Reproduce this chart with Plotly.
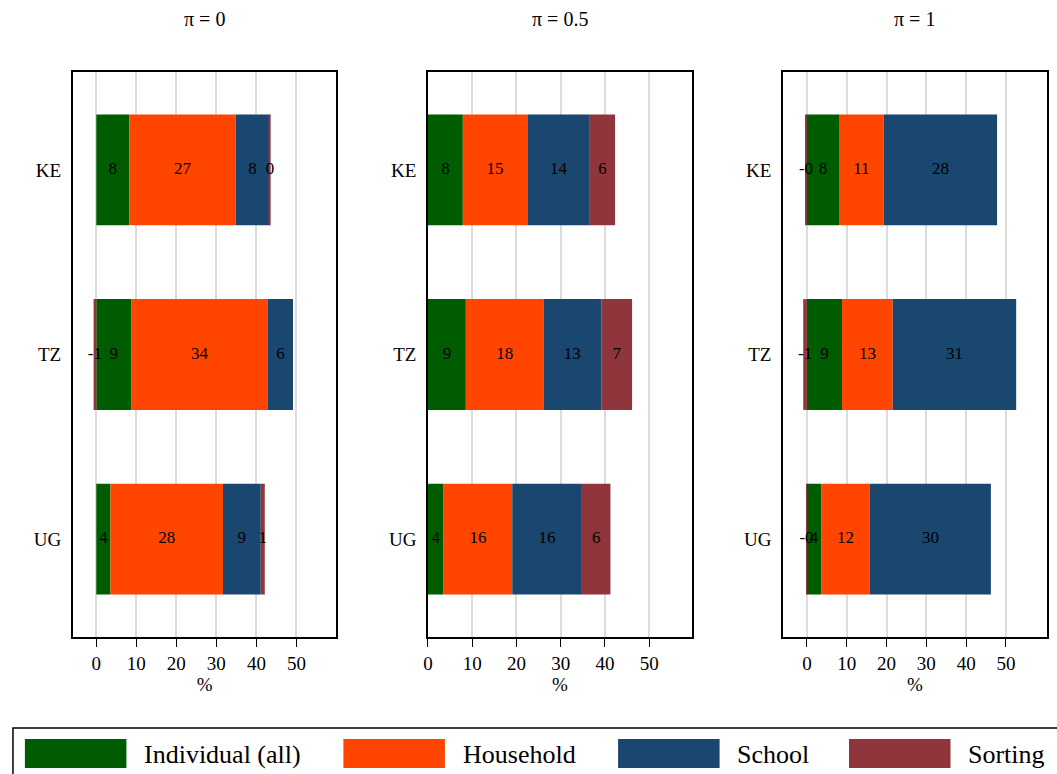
import plotly.graph_objects as go

# ---------------- data ----------------
countries = ["KE", "TZ", "UG"]
panel_titles = ["π = 0", "π = 0.5", "π = 1"]
components = ["Individual (all)", "Household", "School", "Sorting"]

individual_pi0 = [8.28, 8.70, 3.55]
household_pi0 = [26.55, 34.16, 28.10]
school_pi0 = [8.45, 6.29, 9.45]
sorting_pi0 = [0.25, -0.67, 1.00]

individual_pi05 = [7.87, 8.55, 3.52]
household_pi05 = [14.60, 17.55, 15.52]
school_pi05 = [14.10, 13.05, 15.74]
sorting_pi05 = [5.70, 6.97, 6.45]

individual_pi1 = [8.07, 8.82, 3.57]
household_pi1 = [11.25, 12.75, 12.25]
school_pi1 = [28.45, 31.00, 30.40]
sorting_pi1 = [-0.43, -0.92, -0.20]

x_ticks = [0, 10, 20, 30, 40, 50]

panels = [
    [individual_pi0, household_pi0, school_pi0, sorting_pi0],
    [individual_pi05, household_pi05, school_pi05, sorting_pi05],
    [individual_pi1, household_pi1, school_pi1, sorting_pi1],
]

# ---------------- styles / layout ----------------
W, H = 1057, 774
colors = ["#005c00", "#ff4500", "#1a476f", "#90353b"]
FONT = "Liberation Serif"
x_domains_px = [(68, 333), (425, 690), (781.7, 1046.7)]
x_ranges = [[-5.9, 60.0], [0.0, 59.6], [-6.0, 60.25]]
y_top_px, y_bot_px = 72, 637

fig = go.Figure()

for p, series in enumerate(panels):
    xa = "x" if p == 0 else f"x{p+1}"
    ya = "y" if p == 0 else f"y{p+1}"
    pos_base = [0.0] * len(countries)
    neg_base = [0.0] * len(countries)
    text_x, text_y, text_s = [], [], []
    for c, vals in enumerate(series):
        fig.add_trace(go.Bar(
            y=countries, x=vals, orientation="h", name=components[c],
            marker=dict(color=colors[c], line=dict(width=0)),
            xaxis=xa, yaxis=ya, showlegend=False, hoverinfo="x+y+name",
        ))
        for i, v in enumerate(vals):
            if v >= 0:
                centre = pos_base[i] + v / 2
                pos_base[i] += v
            else:
                centre = neg_base[i] + v / 2
                neg_base[i] += v
            text_x.append(centre)
            text_y.append(countries[i])
            text_s.append(f"{v:.0f}")
    fig.add_trace(go.Scatter(
        x=text_x, y=text_y, text=text_s, mode="text",
        textfont=dict(family=FONT, size=17, color="black"),
        xaxis=xa, yaxis=ya, showlegend=False, hoverinfo="skip", cliponaxis=False,
    ))

layout = dict(
    width=W, height=H,
    margin=dict(l=0, r=0, t=0, b=0),
    paper_bgcolor="white", plot_bgcolor="white",
    barmode="relative", bargap=0.4,
    font=dict(family=FONT, color="black"),
    showlegend=False,
)
for p in range(3):
    xk = "xaxis" if p == 0 else f"xaxis{p+1}"
    yk = "yaxis" if p == 0 else f"yaxis{p+1}"
    anchor_y = "y" if p == 0 else f"y{p+1}"
    anchor_x = "x" if p == 0 else f"x{p+1}"
    x0, x1 = x_domains_px[p]
    layout[xk] = dict(
        domain=[x0 / W, x1 / W], anchor=anchor_y, range=x_ranges[p],
        tickvals=x_ticks, ticktext=[str(t) for t in x_ticks],
        ticks="outside", ticklen=8, tickwidth=1.3, tickcolor="black",
        showgrid=True, gridcolor="#dcdcdc", gridwidth=1.5, zeroline=False,
        showline=True, linecolor="black", linewidth=1.5, mirror=True,
        tickfont=dict(family=FONT, size=19, color="black"),
        title=dict(text="%", font=dict(family=FONT, size=19), standoff=3),
    )
    layout[yk] = dict(
        domain=[1 - y_bot_px / H, 1 - y_top_px / H], anchor=anchor_x,
        type="category", categoryorder="array", categoryarray=countries,
        range=[2.53, -0.53], showgrid=False, zeroline=False, ticks="",
        showline=True, linecolor="black", linewidth=1.5, mirror=True,
        tickfont=dict(family=FONT, size=19, color="black"),
        ticklabelstandoff=6,
    )
fig.update_layout(**layout)

annotations = []
for p in range(3):
    x0, x1 = x_domains_px[p]
    annotations.append(dict(
        x=(x0 + x1) / 2 / W, y=1 - 19 / H, xref="paper", yref="paper",
        text=panel_titles[p], showarrow=False, xanchor="center", yanchor="middle",
        font=dict(family=FONT, size=20, color="black"),
    ))

# legend (drawn manually to match the wide swatches)
legend_swatch_x = [20, 340, 616, 848]
legend_text_x = [138, 458, 733, 966]
sw_w, sw_top, sw_bot = 102, 739, 768
shapes = [dict(type="rect", xref="paper", yref="paper",
               x0=8 / W, x1=1.02, y0=-0.02, y1=1 - 728 / H,
               line=dict(color="black", width=1.5), fillcolor="rgba(0,0,0,0)")]
for c, name in enumerate(components):
    shapes.append(dict(type="rect", xref="paper", yref="paper",
                       x0=legend_swatch_x[c] / W, x1=(legend_swatch_x[c] + sw_w) / W,
                       y0=1 - sw_bot / H, y1=1 - sw_top / H,
                       line=dict(width=0), fillcolor=colors[c]))
    annotations.append(dict(
        x=legend_text_x[c] / W, y=1 - 754 / H, xref="paper", yref="paper",
        text=name, showarrow=False, xanchor="left", yanchor="middle",
        font=dict(family=FONT, size=26, color="black"),
    ))
fig.update_layout(shapes=shapes, annotations=annotations)

fig.write_html(
    "out.html",
    config={"displayModeBar": False},
    post_script="document.body.style.margin='0';document.body.style.padding='0';",
)
